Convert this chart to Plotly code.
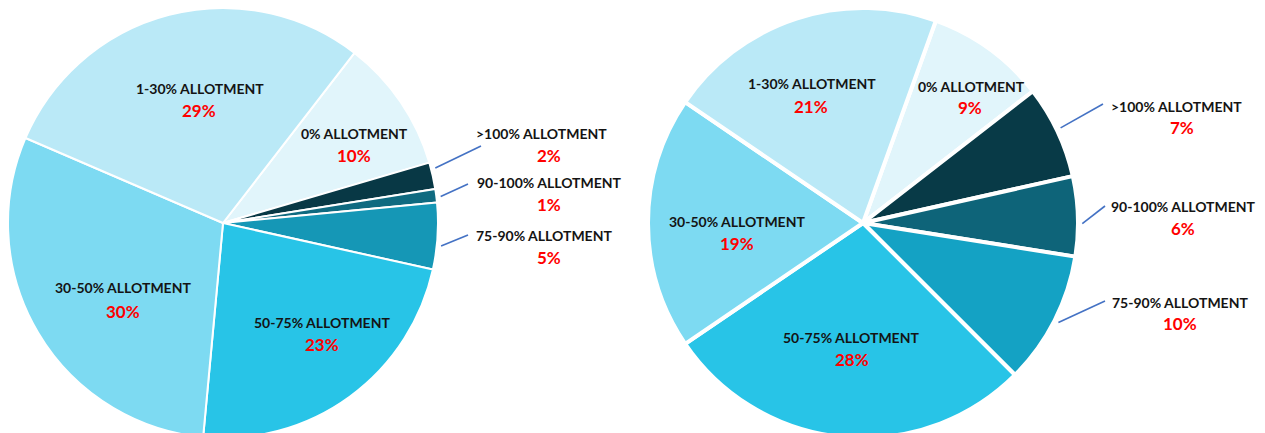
import math
import plotly.graph_objects as go

# ---------------- data ----------------
categories = ["0% ALLOTMENT", ">100% ALLOTMENT", "90-100% ALLOTMENT", "75-90% ALLOTMENT",
              "50-75% ALLOTMENT", "30-50% ALLOTMENT", "1-30% ALLOTMENT"]
left_values = [10, 2, 1, 5, 23, 30, 29]
right_values = [9, 7, 6, 10, 28, 19, 21]

# ---------------- style ----------------
left_colors = ["#E1F5FB", "#083845", "#0F6A80", "#1597B6", "#28C4E7", "#7DDAF2", "#BAE9F7"]
right_colors = ["#E1F5FB", "#083A47", "#0E6479", "#14A2C4", "#28C4E7", "#7DDAF2", "#BAE9F7"]

OFF = 8                  # default page body margin
WIN_W, WIN_H = 1265, 433
W, H = WIN_W - OFF, WIN_H
R = 215
FONT = "Lato"
NAME_SIZE = 14
PCT_SIZE = 17
LINE_COLOR = "#4472C4"

pies = [
    dict(values=left_values, colors=left_colors, cx=223, cy=221, rot=37.7, border=2,
         # per category: (name_x, name_y, pct_x, pct_y, leader_end or None, attach fraction)
         labels=[(354, 133, 354, 155, None, 0.5),
                 (541, 133, 549, 155, (481, 146), 0.25),
                 (549, 182, 549, 204, (468, 184), 0.6),
                 (544, 235, 549, 257, (468, 235), 0.64),
                 (322, 322, 322, 344, None, 0.5),
                 (123, 287, 123, 311, None, 0.5),
                 (200, 88, 199, 110, None, 0.5)]),
    dict(values=right_values, colors=right_colors, cx=863, cy=221, rot=19.8, border=4,
         labels=[(971, 86, 970, 108, None, 0.5),
                 (1176, 106, 1182, 128, (1103, 104), 0.48),
                 (1183, 206, 1183, 228, (1105, 206), 0.59),
                 (1180, 302, 1180, 323, (1105, 301), 0.5),
                 (851, 337, 852, 359, None, 0.5),
                 (737, 221, 737, 243, None, 0.5),
                 (812, 84, 811, 106, None, 0.5)]),
]

fig = go.Figure()
annotations = []
shapes = []


def px(x):
    return (x - OFF) / W


def py(y):
    return 1 - (y - OFF) / H


for p in pies:
    top = p["cy"] - R - OFF
    y0 = max(0.0, top)
    fig.add_trace(go.Pie(
        values=p["values"], labels=categories, sort=False, direction="clockwise",
        rotation=p["rot"], textinfo="none", hoverinfo="label+percent", showlegend=False,
        marker=dict(colors=p["colors"], line=dict(color="white", width=p["border"])),
        domain=dict(x=[px(p["cx"] - R), px(p["cx"] + R)],
                    y=[1 - (y0 + 2 * R) / H, 1 - y0 / H]),
    ))
    total = sum(p["values"])
    start = p["rot"]
    cy_real = OFF + y0 + R
    for cat, v, lab in zip(categories, p["values"], p["labels"]):
        span = 360 * v / total
        nx, ny, qx, qy, end, frac = lab
        pct = f"{round(100 * v / total)}%"
        annotations.append(dict(x=px(nx), y=py(ny), xref="paper", yref="paper",
                                text=f"<b>{cat}</b>", showarrow=False,
                                xanchor="center", yanchor="middle",
                                font=dict(family=FONT, size=NAME_SIZE, color="#141414")))
        annotations.append(dict(x=px(qx), y=py(qy), xref="paper", yref="paper",
                                text=f"<b>{pct}</b>", showarrow=False,
                                xanchor="center", yanchor="middle",
                                font=dict(family=FONT, size=PCT_SIZE, color="#FF0000")))
        if end is not None:
            a = math.radians(start + frac * span)
            r = 1.02 * R
            sx = p["cx"] + r * math.sin(a)
            sy = cy_real - r * math.cos(a)
            shapes.append(dict(type="line", xref="paper", yref="paper",
                               x0=px(sx), y0=py(sy), x1=px(end[0]), y1=py(end[1]),
                               line=dict(color=LINE_COLOR, width=1.6)))
        start += span

fig.update_layout(
    width=W, height=H, margin=dict(l=0, r=0, t=0, b=0),
    paper_bgcolor="white", plot_bgcolor="white",
    annotations=annotations, shapes=shapes,
)

fig.write_html("out.html")
